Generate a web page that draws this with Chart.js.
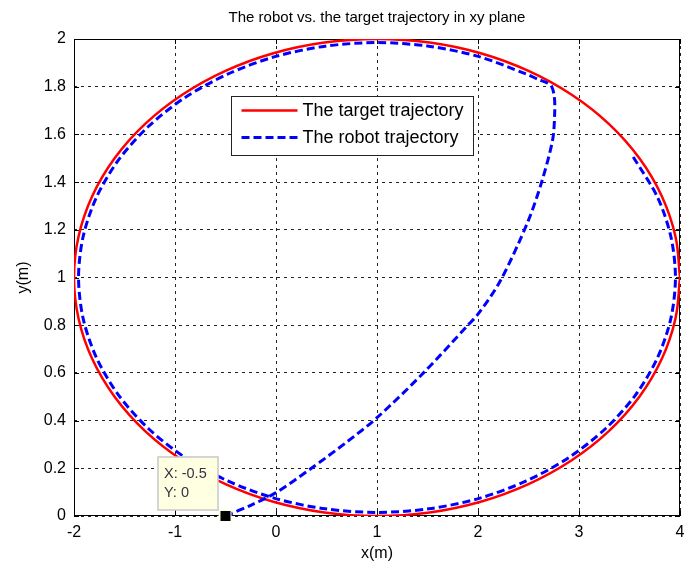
<!DOCTYPE html>
<html>
<head>
<meta charset="utf-8">
<script src="https://cdn.jsdelivr.net/npm/chart.js@4/dist/chart.umd.min.js"></script>
<style>
  html, body { margin: 0; padding: 0; background: #ffffff; }
  #wrap { width: 684px; height: 572px; }
</style>
</head>
<body>
<div id="wrap"><canvas id="c" width="684" height="572"></canvas></div>
<script>
// Target trajectory: ellipse around (1, 1), sampled every 10 degrees
const targetX = [4, 3.954, 3.819, 3.598, 3.298, 2.928, 2.5, 2.026, 1.521, 1, 0.479, -0.026, -0.5, -0.928, -1.298, -1.598, -1.819, -1.954, -2, -1.954, -1.819, -1.598, -1.298, -0.928, -0.5, -0.026, 0.479, 1, 1.521, 2.026, 2.5, 2.928, 3.298, 3.598, 3.819, 3.954, 4];
const targetY = [1, 1.174, 1.342, 1.5, 1.643, 1.766, 1.866, 1.94, 1.985, 2, 1.985, 1.94, 1.866, 1.766, 1.643, 1.5, 1.342, 1.174, 1, 0.826, 0.658, 0.5, 0.357, 0.234, 0.134, 0.06, 0.015, 0, 0.015, 0.06, 0.134, 0.234, 0.357, 0.5, 0.658, 0.826, 1];

// Robot trajectory: starts at (-0.5, 0), climbs to the ellipse, then tracks it
const robotX = [-0.5, -0.25, 0, 0.35, 0.7, 1, 1.46, 1.9, 2, 2.22, 2.49, 2.63, 2.74, 2.76, 2.755, 2.73, 2.69, 2.6, 2.478, 2.011, 1.513, 1, 0.487, -0.011, -0.478, -0.899, -1.264, -1.559, -1.777, -1.91, -1.955, -1.91, -1.777, -1.559, -1.264, -0.899, -0.478, -0.011, 0.487, 1, 1.513, 2.011, 2.478, 2.899, 3.264, 3.559, 3.777, 3.91, 3.955, 3.91, 3.777, 3.53];
const robotY = [0, 0.045, 0.098, 0.2, 0.31, 0.412, 0.6, 0.8, 0.846, 0.985, 1.23, 1.4, 1.58, 1.7, 1.76, 1.8, 1.815, 1.83, 1.853, 1.926, 1.97, 1.985, 1.97, 1.926, 1.853, 1.755, 1.633, 1.493, 1.337, 1.171, 1, 0.829, 0.663, 0.507, 0.367, 0.245, 0.147, 0.074, 0.03, 0.015, 0.03, 0.074, 0.147, 0.245, 0.367, 0.507, 0.663, 0.829, 1, 1.171, 1.337, 1.51];

const xTicks = [-2, -1, 0, 1, 2, 3, 4];
const yTicks = [0, 0.2, 0.4, 0.6, 0.8, 1, 1.2, 1.4, 1.6, 1.8, 2];

const seriesNames = ['The target trajectory', 'The robot trajectory'];
const titleText = 'The robot vs. the target trajectory in xy plane';
const xLabel = 'x(m)';
const yLabel = 'y(m)';

const FONT = "'Liberation Sans', Arial, Helvetica, sans-serif";
const RED = '#ff0000';
const BLUE = '#0000ff';
const BLUE_DASH = [8, 4];

const toPoints = (xs, ys) => xs.map((x, i) => ({ x: x, y: ys[i] }));

// Box around the plot with inward tick marks on all four sides
const axesFrame = {
  id: 'axesFrame',
  beforeDatasetsDraw(chart) {
    const { ctx, chartArea: a, scales } = chart;
    ctx.save();
    ctx.strokeStyle = '#000';
    ctx.lineWidth = 1;
    ctx.setLineDash([]);
    ctx.strokeRect(Math.round(a.left) + 0.5, Math.round(a.top) + 0.5,
                   Math.round(a.right - a.left) - 1, Math.round(a.bottom - a.top) - 1);
    const len = 5;
    ctx.beginPath();
    xTicks.forEach(v => {
      const px = Math.round(scales.x.getPixelForValue(v)) + 0.5;
      ctx.moveTo(px, a.bottom); ctx.lineTo(px, a.bottom - len);
      ctx.moveTo(px, a.top); ctx.lineTo(px, a.top + len);
    });
    yTicks.forEach(v => {
      const py = Math.round(scales.y.getPixelForValue(v)) + 0.5;
      ctx.moveTo(a.left, py); ctx.lineTo(a.left + len, py);
      ctx.moveTo(a.right, py); ctx.lineTo(a.right - len, py);
    });
    ctx.stroke();
    ctx.restore();
  }
};

// Legend box inside the plot and the data tip at the robot's start point
const overlays = {
  id: 'overlays',
  afterDatasetsDraw(chart) {
    const { ctx, chartArea: a, scales } = chart;
    ctx.save();

    // legend
    ctx.font = '18px ' + FONT;
    const textW = Math.max(...seriesNames.map(s => ctx.measureText(s).width));
    const bx = Math.round(a.left + 157) + 0.5;
    const by = Math.round(a.top + 57) + 0.5;
    const bw = Math.round(71 + textW + 10);
    const bh = 59;
    ctx.fillStyle = '#fff';
    ctx.fillRect(bx, by, bw, bh);
    ctx.strokeStyle = '#222';
    ctx.lineWidth = 1;
    ctx.strokeRect(bx, by, bw, bh);
    const rows = [by + 14, by + 41];
    const styles = [{ c: RED, d: [], w: 2.5 }, { c: BLUE, d: BLUE_DASH, w: 3 }];
    rows.forEach((ry, i) => {
      ctx.beginPath();
      ctx.strokeStyle = styles[i].c;
      ctx.lineWidth = styles[i].w;
      ctx.setLineDash(styles[i].d);
      ctx.moveTo(bx + 10, ry);
      ctx.lineTo(bx + 66, ry);
      ctx.stroke();
      ctx.setLineDash([]);
      ctx.fillStyle = '#000';
      ctx.textBaseline = 'middle';
      ctx.textAlign = 'left';
      ctx.fillText(seriesNames[i], bx + 71, ry + 1);
    });

    // data tip
    const tx = robotX[0], ty = robotY[0];
    const px = scales.x.getPixelForValue(tx);
    const py = scales.y.getPixelForValue(ty);
    ctx.fillStyle = '#ffffe1';
    ctx.fillRect(px - 7, py - 7, 13, 13);
    ctx.fillStyle = '#000';
    ctx.fillRect(px - 5, py - 5, 10, 10);

    const tw = 60, th = 53;
    const tr = Math.round(px - 8), tb = Math.round(py - 6);
    ctx.fillStyle = '#ffffe1';
    ctx.fillRect(tr - tw, tb - th, tw, th);
    ctx.strokeStyle = '#c8c8c8';
    ctx.lineWidth = 1.5;
    ctx.strokeRect(tr - tw, tb - th, tw, th);
    ctx.fillStyle = '#333344';
    ctx.font = '14.5px ' + FONT;
    ctx.textBaseline = 'middle';
    ctx.fillText('X: ' + tx, tr - tw + 6, tb - 36);
    ctx.fillText('Y: ' + ty, tr - tw + 6, tb - 17);

    ctx.restore();
  }
};

new Chart(document.getElementById('c'), {
  type: 'scatter',
  data: {
    datasets: [
      {
        label: seriesNames[0],
        data: toPoints(targetX, targetY),
        showLine: true,
        borderColor: RED,
        borderWidth: 2.5,
        pointRadius: 0,
        tension: 0.4,
        order: 2
      },
      {
        label: seriesNames[1],
        data: toPoints(robotX, robotY),
        showLine: true,
        borderColor: BLUE,
        borderWidth: 3,
        borderDash: BLUE_DASH,
        pointRadius: 0,
        tension: 0.3,
        order: 1
      }
    ]
  },
  options: {
    responsive: false,
    animation: false,
    devicePixelRatio: 1,
    layout: { padding: { left: 0, right: 4, top: 0, bottom: 0 } },
    plugins: {
      legend: { display: false },
      tooltip: { enabled: false },
      title: {
        display: true,
        fullSize: false,
        text: titleText,
        color: '#000',
        font: { family: FONT, size: 15, weight: 'normal', lineHeight: 1.2 },
        padding: { top: 9, bottom: 12 }
      }
    },
    scales: {
      x: {
        type: 'linear',
        min: -2, max: 4,
        afterBuildTicks: s => { s.ticks = xTicks.map(v => ({ value: v })); },
        afterFit: s => { s.height = 56; s.paddingLeft = 0; s.paddingRight = 0; },
        grid: { color: '#222', lineWidth: 1, drawTicks: false },
        border: { display: false, dash: [3, 4] },
        ticks: { color: '#000', padding: 7, font: { family: FONT, size: 16 }, callback: v => String(v) },
        title: { display: true, text: xLabel, color: '#000', padding: { top: 0, bottom: 9 }, font: { family: FONT, size: 16, lineHeight: 1.2 } }
      },
      y: {
        type: 'linear',
        min: 0, max: 2,
        afterBuildTicks: s => { s.ticks = yTicks.map(v => ({ value: v })); },
        afterFit: s => { s.width = 74; s.paddingTop = 0; s.paddingBottom = 0; },
        grid: { color: '#222', lineWidth: 1, drawTicks: false },
        border: { display: false, dash: [3, 4] },
        ticks: { color: '#000', padding: 8, font: { family: FONT, size: 16 }, callback: v => String(v) },
        title: { display: true, text: yLabel, color: '#000', padding: { top: 14, bottom: 0 }, font: { family: FONT, size: 16, lineHeight: 1.2 } }
      }
    }
  },
  plugins: [axesFrame, overlays]
});
</script>
</body>
</html>
